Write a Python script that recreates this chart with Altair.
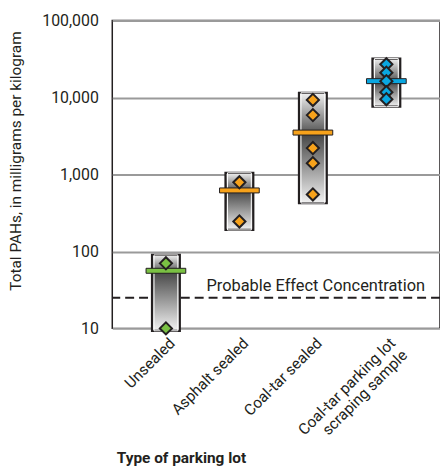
import math
import altair as alt
import pandas as pd

categories = ["Unsealed", "Asphalt sealed", "Coal-tar sealed", "Coal-tar parking lot|scraping sample"]
box_low = [9.3, 190, 425, 7600]
box_high = [90, 1050, 11500, 32000]
medians = [56, 620, 3500, 16300]
point_values = [
    [70, 10],
    [790, 245],
    [9300, 5900, 2200, 1400, 550],
    [27000, 21000, 16300, 11700, 9500],
]
colors = ["#7ac143", "#f7a21b", "#f7a21b", "#0aa6e0"]
pec_value = 25
pec_label = "Probable Effect Concentration"
y_ticks = [10, 100, 1000, 10000, 100000]
y_title = "Total PAHs, in milligrams per kilogram"
x_title = "Type of parking lot"

FONT = "Roboto, Liberation Sans, sans-serif"
INK = "#231f20"

boxes = pd.DataFrame({"cat": categories, "low": box_low, "high": box_high, "med": medians})
pts = pd.DataFrame(
    [{"cat": c, "v": v} for c, vals in zip(categories, point_values) for v in vals]
)
pec = pd.DataFrame({"v": [pec_value], "label": [pec_label]})

yscale = alt.Scale(type="log", domain=[10, 100000], nice=False)
xscale = alt.Scale(type="point", domain=categories, padding=0.73)
fillscale = alt.Scale(domain=categories, range=colors)

yaxis = alt.Axis(
    values=y_ticks, format=",", title=y_title, domain=False, ticks=False,
    grid=True, gridColor="#9a9a9a", gridWidth=2,
    labelFont=FONT, labelFontSize=16, labelColor=INK, labelPadding=14,
    titleFont=FONT, titleFontSize=15.5, titleFontWeight="normal", titleColor=INK,
    titleAngle=270, titleX=-97, titleY=141, titleAlign="center", titleBaseline="middle",
)
xaxis = alt.Axis(
    title=x_title, domain=False, ticks=False, grid=False,
    labelAngle=315, labelAlign="right", labelBaseline="middle",
    labelPadding=12, labelOffset=6,
    labelExpr="split(datum.label, '|')", labelLineHeight=17,
    labelFont=FONT, labelFontSize=15.5, labelColor=INK,
    titleFont=FONT, titleFontSize=15.5, titleFontWeight="bold", titleColor=INK,
    titleAnchor="start", titleAlign="left", titleBaseline="alphabetic",
    titleX=4, titleY=135,
)

X = alt.X("cat:N", scale=xscale, axis=xaxis, sort=categories)

rule = alt.Chart(pec).mark_rule(strokeDash=[9, 5], strokeWidth=2, color=INK).encode(
    y=alt.Y("v:Q", scale=yscale, axis=yaxis)
)
pec_text = alt.Chart(pec).mark_text(
    align="right", baseline="alphabetic", dy=-7, font=FONT, fontSize=16.5, color=INK
).encode(x=alt.value(315), y=alt.Y("v:Q", scale=yscale, axis=yaxis), text="label:N")

layers = [rule, pec_text]
for c, lo, hi, md in zip(categories, box_low, box_high, medians):
    f = (math.log10(hi) - math.log10(md)) / (math.log10(hi) - math.log10(lo))
    grad = alt.Gradient(
        gradient="linear", x1=0, y1=0, x2=0, y2=1,
        stops=[
            alt.GradientStop(offset=0, color="#f2f2f2"),
            alt.GradientStop(offset=min(max(f + 0.03, 0.0), 1.0), color="#4a4a4a"),
            alt.GradientStop(offset=1, color="#f2f2f2"),
        ],
    )
    layers.append(
        alt.Chart(boxes).transform_filter(alt.datum.cat == c)
        .mark_bar(size=28, fill=grad, stroke=INK, strokeWidth=2.2)
        .encode(x=X, y=alt.Y("low:Q", scale=yscale, axis=yaxis), y2="high:Q")
    )

inner = alt.Chart(boxes).mark_bar(size=24, fillOpacity=0, stroke="#ffffff", strokeWidth=1).encode(
    x=X, y=alt.Y("low:Q", scale=yscale, axis=yaxis), y2="high:Q"
)
meds = alt.Chart(boxes).mark_tick(
    orient="horizontal", size=40, thickness=5, stroke=INK, strokeWidth=1, opacity=1
).encode(
    x=X, y=alt.Y("med:Q", scale=yscale, axis=yaxis),
    fill=alt.Fill("cat:N", scale=fillscale, legend=None),
)
dots = alt.Chart(pts).mark_point(shape="diamond", filled=True, size=150, stroke=INK, strokeWidth=2, opacity=1).encode(
    x=X, y=alt.Y("v:Q", scale=yscale, axis=yaxis),
    fill=alt.Fill("cat:N", scale=fillscale, legend=None),
)
layers += [inner, meds, dots]

chart = alt.layer(*layers).properties(
    width=330, height=310,
    autosize=alt.AutoSizeParams(type="none"),
    padding={"left": 105, "top": 11, "right": 0, "bottom": 140},
).configure_view(stroke=INK, strokeWidth=1.5)

chart.save("out.html", embed_options={"renderer": "svg", "actions": False})
